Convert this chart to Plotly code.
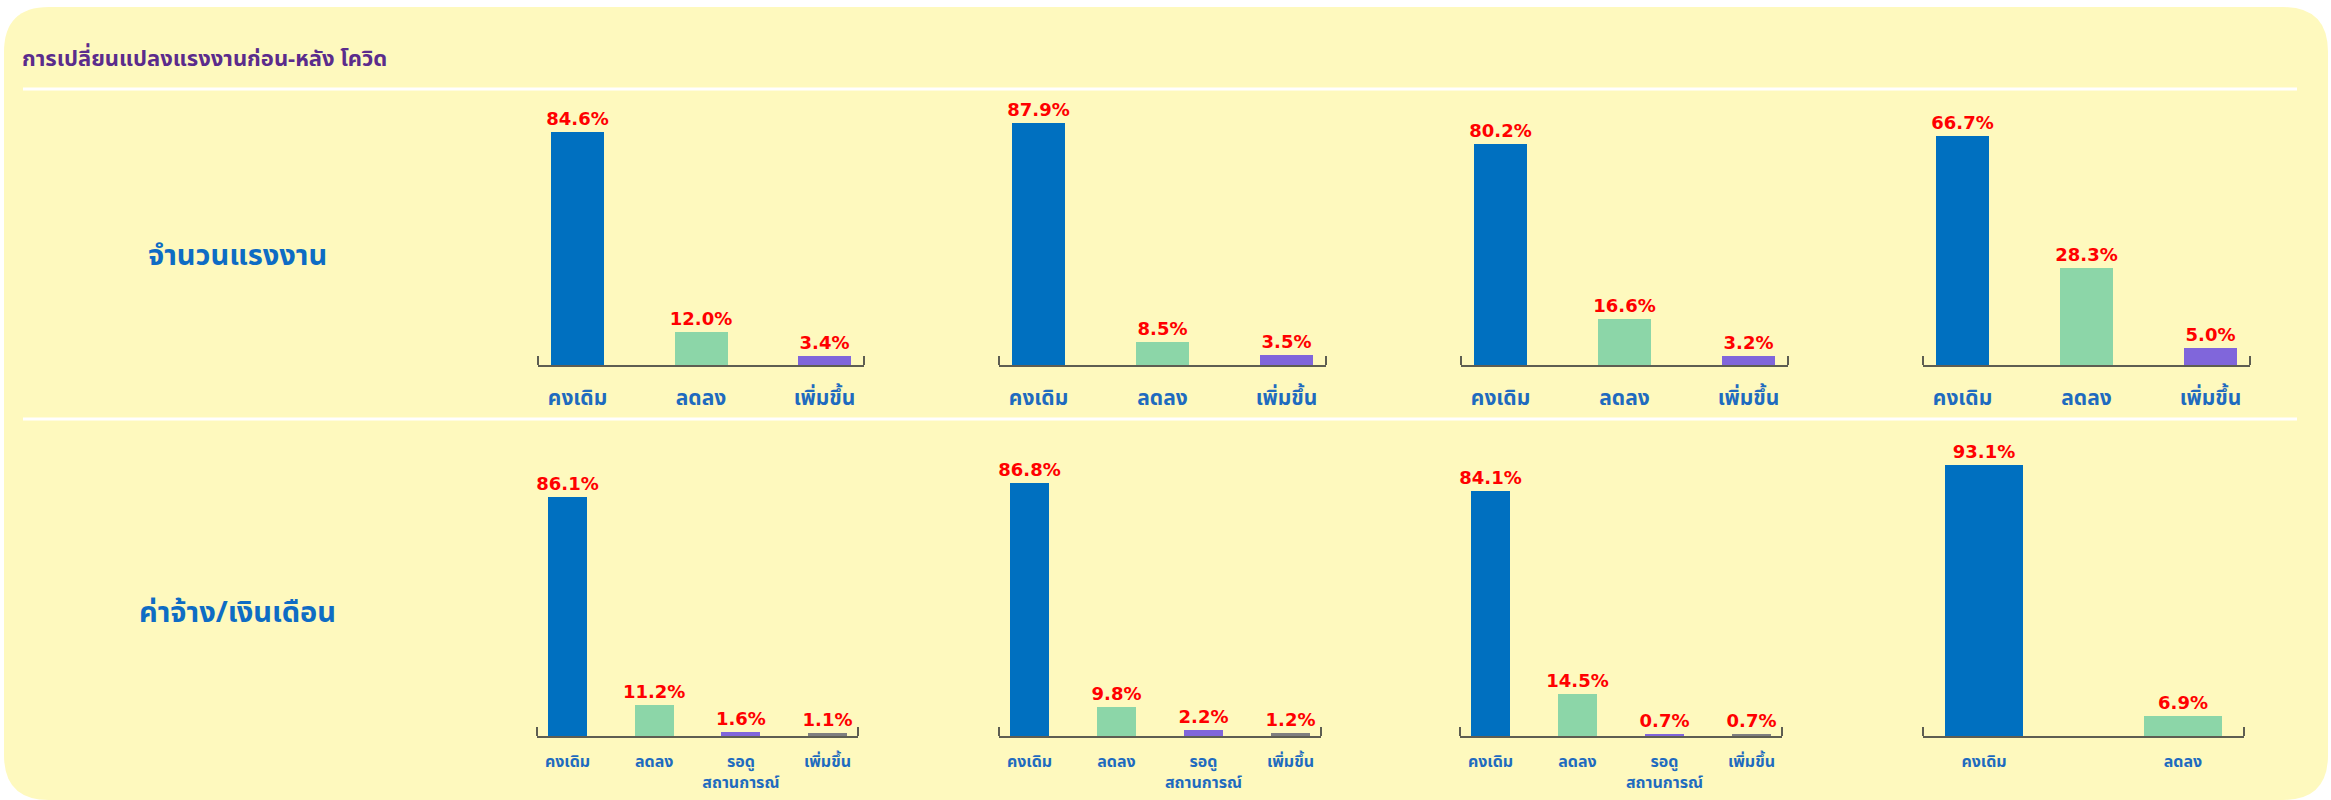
import plotly.graph_objects as go

W, H = 2331, 800

title_text = "การเปลี่ยนแปลงแรงงานก่อน-หลัง โควิด"
row_labels = ["จำนวนแรงงาน", "ค่าจ้าง/เงินเดือน"]

cats_upper = ["คงเดิม", "ลดลง", "เพิ่มขึ้น"]
cats_lower = ["คงเดิม", "ลดลง", "รอดู<br>สถานการณ์", "เพิ่มขึ้น"]
cats_lower2 = ["คงเดิม", "ลดลง"]

upper1 = [84.6, 12.0, 3.4]
upper2 = [87.9, 8.5, 3.5]
upper3 = [80.2, 16.6, 3.2]
upper4 = [66.7, 28.3, 5.0]
lower1 = [86.1, 11.2, 1.6, 1.1]
lower2 = [86.8, 9.8, 2.2, 1.2]
lower3 = [84.1, 14.5, 0.7, 0.7]
lower4 = [93.1, 6.9]

colors = ["#0070C0", "#8CD6A8", "#8066DB", "#7F7F7F"]

THAI = "Noto Sans Thai, Tahoma, Loma, Garuda, DejaVu Sans, sans-serif"
NUMF = "DejaVu Sans, Arial, sans-serif"

# panel geometry in pixels: (x0, x1, ytop, ybase, ymax, bar_px, pad_px, tick_size)
panels = [
    (cats_upper, upper1, (538, 864, 90, 365, 100, 53, 13, 21)),
    (cats_upper, upper2, (999, 1326, 90, 365, 100, 53, 13, 21)),
    (cats_upper, upper3, (1461, 1788, 90, 365, 100, 53, 13, 21)),
    (cats_upper, upper4, (1923, 2250, 90, 365, 80, 53, 13, 21)),
    (cats_lower, lower1, (537, 858, 458, 736, 100, 39, 11, 16)),
    (cats_lower, lower2, (999, 1321, 445, 736, 100, 39, 11, 16)),
    (cats_lower, lower3, (1460, 1782, 445, 736, 100, 39, 11, 16)),
    (cats_lower2, lower4, (1923, 2244, 445, 736, 100, 78, 22, 16)),
]

def px(x):
    return x / W

def py(y):
    return 1 - y / H

fig = go.Figure()
shapes = []

# rounded background
x0b, x1b, y0b, y1b, r = 4, 2328, 7, 800, 45
rx, ry = r / W, r / H
L, R, T, B = px(x0b), px(x1b), py(y0b), py(y1b)
path = (f"M {L+rx},{T} L {R-rx},{T} Q {R},{T} {R},{T-ry} "
        f"L {R},{B+ry} Q {R},{B} {R-rx},{B} "
        f"L {L+rx},{B} Q {L},{B} {L},{B+ry} "
        f"L {L},{T-ry} Q {L},{T} {L+rx},{T} Z")
shapes.append(dict(type="path", path=path, xref="paper", yref="paper",
                   fillcolor="#FEF9BE", line=dict(width=0), layer="below"))
for yy in (89, 419):
    shapes.append(dict(type="line", xref="paper", yref="paper",
                       x0=px(23), x1=px(2297), y0=py(yy), y1=py(yy),
                       line=dict(color="#FFFFFF", width=3), layer="below"))

layout_axes = {}
for i, (cats, vals, geo) in enumerate(panels, start=1):
    x0, x1, ytop, ybase, ymax, bpx, pad, tsz = geo
    n = len(cats)
    length = x1 - x0
    s = (length - 2 * pad - bpx) / (n - 1)
    w = bpx / s
    half = (bpx / 2 + pad) / s
    xa = "x" if i == 1 else f"x{i}"
    ya = "y" if i == 1 else f"y{i}"
    fig.add_trace(go.Bar(
        x=list(range(n)), y=vals, width=w,
        marker=dict(color=colors[:n], line=dict(width=0)),
        text=[f"{v:.1f}%" for v in vals], textposition="outside",
        constraintext="none",
        textfont=dict(family=NUMF, size=18, color="#FF0000", weight="bold"),
        cliponaxis=False, xaxis=xa, yaxis=ya, showlegend=False,
        hoverinfo="skip",
    ))
    xname = "xaxis" if i == 1 else f"xaxis{i}"
    yname = "yaxis" if i == 1 else f"yaxis{i}"
    layout_axes[xname] = dict(
        domain=[px(x0), px(x1)], anchor=ya, range=[-half, n - 1 + half],
        tickmode="array", tickvals=list(range(n)), ticktext=cats,
        showline=True, linecolor="#5E5E52", linewidth=2, showgrid=False,
        zeroline=False, ticks="", fixedrange=True,
        tickfont=dict(family=THAI, size=tsz, color="#1F6BBF", weight="bold"),
        ticklabelstandoff=13 if tsz > 18 else 10,
    )
    layout_axes[yname] = dict(
        domain=[py(ybase), py(ytop)], anchor=xa, range=[0, ymax],
        visible=False, fixedrange=True,
    )
    for xe in (x0, x1):
        shapes.append(dict(type="line", xref="paper", yref="paper",
                           x0=px(xe), x1=px(xe), y0=py(ybase), y1=py(ybase - 9),
                           line=dict(color="#5E5E52", width=2)))

annotations = [
    dict(text=title_text, x=px(20), y=py(60), xref="paper", yref="paper",
         xanchor="left", yanchor="middle", showarrow=False,
         font=dict(family=THAI, size=22, color="#5B2C8C", weight="bold")),
    dict(text=row_labels[0], x=px(237), y=py(256), xref="paper", yref="paper",
         xanchor="center", yanchor="middle", showarrow=False,
         font=dict(family=THAI, size=29, color="#0E6CC4", weight="bold")),
    dict(text=row_labels[1], x=px(237), y=py(613), xref="paper", yref="paper",
         xanchor="center", yanchor="middle", showarrow=False,
         font=dict(family=THAI, size=29, color="#0E6CC4", weight="bold")),
]

fig.update_layout(
    width=W, height=H, margin=dict(l=0, r=0, t=0, b=0),
    paper_bgcolor="#FFFFFF", plot_bgcolor="rgba(0,0,0,0)",
    shapes=shapes, annotations=annotations, bargap=0,
    hovermode=False,
    **layout_axes,
)

fig.write_html("out.html",
               config={"displayModeBar": False, "staticPlot": True},
               post_script="document.body.style.margin='0';document.body.style.overflow='hidden';")
